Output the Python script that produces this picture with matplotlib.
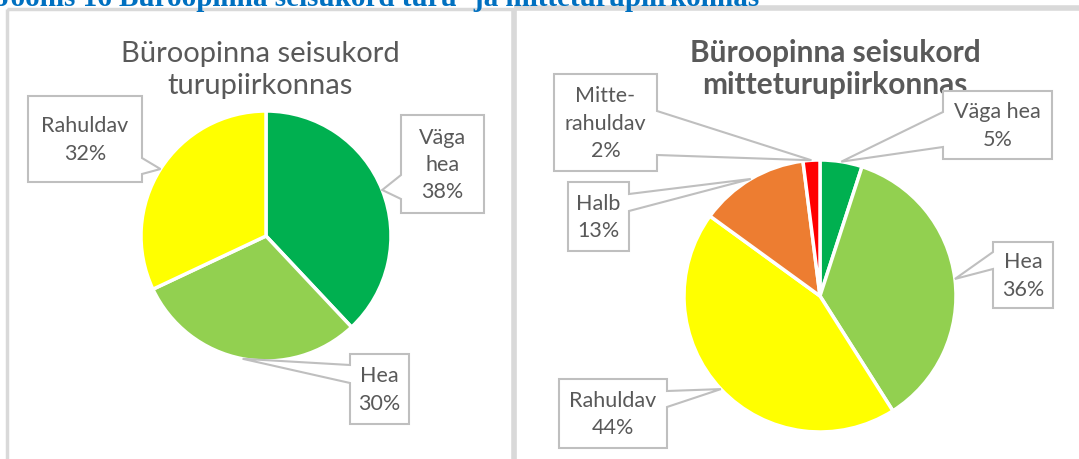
import numpy as np
import matplotlib.pyplot as plt
from matplotlib.patches import Polygon, Rectangle

# data
left_labels = ['Väga\nhea', 'Hea', 'Rahuldav']
left_values = [38, 30, 32]
right_labels = ['Väga hea', 'Hea', 'Rahuldav', 'Halb', 'Mitte-\nrahuldav']
right_values = [5, 36, 44, 13, 2]
left_colors = ['#00B050', '#92D050', '#FFFF00']
right_colors = ['#00B050', '#92D050', '#FFFF00', '#ED7D31', '#FF0000']

caption = 'Joonis 16 Büroopinna seisukord turu- ja mitteturupiirkonnas'
left_title = 'Büroopinna seisukord\nturupiirkonnas'
right_title = 'Büroopinna seisukord\nmitteturupiirkonnas'

GREY = '#595959'
EDGE = '#BFBFBF'
FONT = 'Lato'

fig = plt.figure(figsize=(10.79, 4.6), dpi=100)
ax = fig.add_axes([0, 0, 1, 1])


def tips(values, center, r):
    # point on the rim at the middle of every slice (y axis points down)
    frac = np.cumsum([0] + list(values)) / float(sum(values))
    mid = -90 + (frac[:-1] + frac[1:]) / 2 * 360
    return [(center[0] + r * np.cos(np.radians(a)), center[1] + r * np.sin(np.radians(a))) for a in mid]


def callout(box, side, b1, b2, tip):
    x0, y0, x1, y1 = box
    if side == 'left':
        pts = [(x0, y0), (x1, y0), (x1, y1), (x0, y1), (x0, b2), tip, (x0, b1)]
    else:
        pts = [(x0, y0), (x1, y0), (x1, b1), tip, (x1, b2), (x1, y1), (x0, y1)]
    ax.add_patch(Polygon(pts, closed=True, facecolor='white', edgecolor=EDGE, lw=1.5, zorder=3))


def label(box, text):
    x0, y0, x1, y1 = box
    ax.text((x0 + x1) / 2, (y0 + y1) / 2, text, ha='center', va='center', color=GREY,
            fontsize=15.5, family=FONT, linespacing=1.45, zorder=4)


# panel borders
ax.add_patch(Rectangle((7, 10), 507, 470, fill=False, edgecolor='#D9D9D9', lw=2.5))
ax.add_patch(Rectangle((514, 9), 600, 470, fill=False, edgecolor='#D9D9D9', lw=4))

ax.text(-4, 6, caption, color='#0070C0', fontsize=21, fontweight='bold',
        family='Liberation Serif', ha='left', va='baseline')

# left pie
lc, lr = (266, 237), 125
ax.pie(left_values, colors=left_colors, startangle=-90, counterclock=True,
       center=lc, radius=lr, frame=True,
       wedgeprops=dict(edgecolor='white', linewidth=2.5))
lt = tips(left_values, lc, lr)
ax.text(260, 70, left_title, ha='center', va='center', color=GREY, fontsize=21,
        family=FONT, linespacing=1.3)

lboxes = [(401, 116, 484, 214), (350, 355, 409, 425), (28, 97, 142, 183)]
lsides = [('left', 176, 200), ('left', 366, 384), ('right', 159, 175)]
for i in range(3):
    callout(lboxes[i], lsides[i][0], lsides[i][1], lsides[i][2], lt[i])
    label(lboxes[i], left_labels[i] + '\n' + str(left_values[i]) + '%')

# right pie
rc, rr = (820, 297), 136
ax.pie(right_values, colors=right_colors, startangle=-90, counterclock=True,
       center=rc, radius=rr, frame=True,
       wedgeprops=dict(edgecolor='white', linewidth=2.5))
rt = tips(right_values, rc, rr)
ax.text(835, 69, right_title, ha='center', va='center', color=GREY, fontsize=21.5,
        fontweight='bold', family=FONT, linespacing=1.2, zorder=2)

rboxes = [(943, 92, 1052, 160), (993, 243, 1053, 309), (559, 380, 667, 449),
          (568, 183, 629, 252), (554, 75, 657, 172)]
rsides = [('left', 113, 148), ('left', 253, 270), ('right', 392, 408),
          ('right', 195, 212), ('right', 112, 156)]
for i in range(5):
    callout(rboxes[i], rsides[i][0], rsides[i][1], rsides[i][2], rt[i])
    label(rboxes[i], right_labels[i] + '\n' + str(right_values[i]) + '%')

ax.set_xlim(0, 1079)
ax.set_ylim(460, 0)
ax.set_aspect('auto')
ax.axis('off')

fig.savefig('out.png', dpi=100)
